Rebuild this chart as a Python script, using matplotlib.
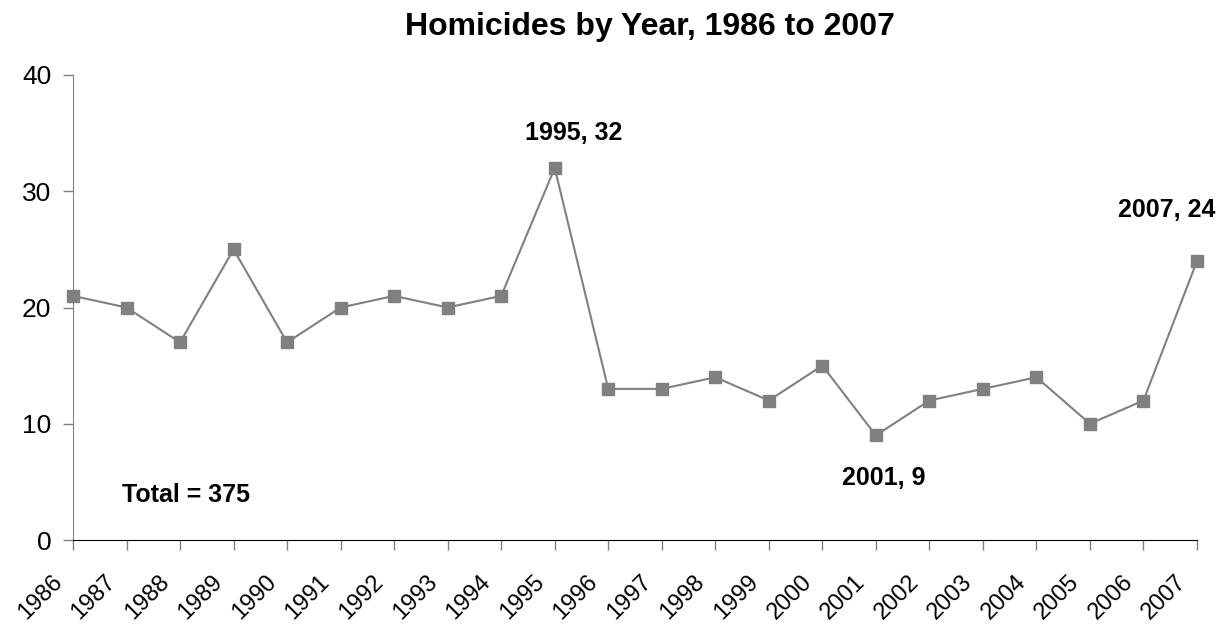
import matplotlib
matplotlib.use("Agg")
import matplotlib.pyplot as plt
from matplotlib.transforms import ScaledTranslation

years = [1986, 1987, 1988, 1989, 1990, 1991, 1992, 1993, 1994, 1995, 1996,
         1997, 1998, 1999, 2000, 2001, 2002, 2003, 2004, 2005, 2006, 2007]
homicides = [21, 20, 17, 25, 17, 20, 21, 20, 21, 32, 13,
             13, 14, 12, 15, 9, 12, 13, 14, 10, 12, 24]
yticks = [0, 10, 20, 30, 40]

plt.rcParams['font.family'] = ['Liberation Sans', 'DejaVu Sans']

W, H = 1222, 627
fig = plt.figure(figsize=(W/100, H/100), dpi=100)
ax = fig.add_axes([73/W, 1-540/H, (1197-73)/W, (540-75)/H])

ax.plot(years, homicides, color='#808080', lw=1.5, marker='s', ms=8.5,
        markerfacecolor='#808080', markeredgecolor='#808080', clip_on=False, zorder=3)

ax.set_xlim(years[0], years[-1])
ax.set_ylim(0, 40)
ax.set_yticks(yticks)
ax.set_xticks(years)
ax.set_xticklabels([str(y) for y in years], rotation=45, ha='right', va='center',
                   rotation_mode='anchor', fontsize=17)
ax.tick_params(axis='y', labelsize=19, length=7, width=1, color='#808080', pad=8.5)
ax.tick_params(axis='x', length=7, width=1, color='#808080', pad=21)
off = ScaledTranslation(-14/100, 0, fig.dpi_scale_trans)
for lab in ax.get_xticklabels():
    lab.set_transform(lab.get_transform() + off)

for s in ['top', 'right']:
    ax.spines[s].set_visible(False)
ax.spines['left'].set_color('#808080')
ax.spines['bottom'].set_color('#000000')

fig.text(650/W, 1-35/H, 'Homicides by Year, 1986 to 2007', ha='center', va='baseline',
         fontsize=23, fontweight='bold')

def ann(yr, dx, dy):
    i = years.index(yr)
    ax.annotate(f'{years[i]}, {homicides[i]}', xy=(years[i], homicides[i]),
                xytext=(dx, dy), textcoords='offset pixels', ha='center', va='baseline',
                fontsize=18, fontweight='bold')

ann(1995, 19, 28)
ann(2007, -30, 44)
ann(2001, 8, -50)

ax.text(1988.11, 3.27, 'Total = 375', ha='center', va='baseline', fontsize=18, fontweight='bold')

fig.savefig('out.png', dpi=100)
